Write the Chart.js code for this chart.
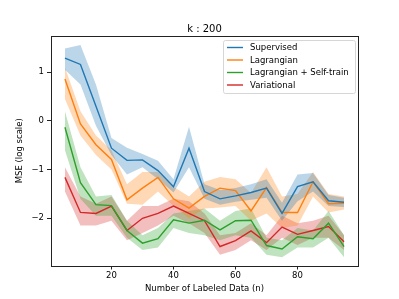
<!DOCTYPE html>
<html>
<head>
<meta charset="utf-8">
<script src="https://cdn.jsdelivr.net/npm/chart.js@4/dist/chart.umd.min.js"></script>
<style>
  html, body { margin: 0; padding: 0; background: #fff; }
  #wrap { width: 399px; height: 299px; }
</style>
</head>
<body>
<div id="wrap"><canvas id="chart" width="399" height="299"></canvas></div>
<script>
// data (log-scale MSE)
const nLabeled = [5, 10, 15, 20, 25, 30, 35, 40, 45, 50, 55, 60, 65, 70, 75, 80, 85, 90, 95];
const xTicks = [20, 40, 60, 80];
const yTicks = [-2, -1, 0, 1];

const supervised = [1.29, 1.16, 0.30, -0.56, -0.81, -0.80, -1.02, -1.35, -0.56, -1.45, -1.60, -1.54, -1.47, -1.38, -1.90, -1.35, -1.25, -1.64, -1.67];
const supervisedHi = [1.49, 1.56, 0.75, -0.35, -0.55, -0.68, -0.82, -1.20, -0.12, -1.30, -1.42, -1.38, -1.30, -1.20, -1.68, -1.10, -1.07, -1.52, -1.58];
const supervisedLo = [1.05, 0.75, -0.10, -0.70, -1.10, -0.95, -1.20, -1.47, -0.95, -1.60, -1.72, -1.66, -1.62, -1.58, -2.05, -1.65, -1.45, -1.75, -1.77];

const lagrangian = [0.86, -0.06, -0.49, -0.79, -1.62, -1.38, -1.16, -1.60, -1.79, -1.55, -1.38, -1.43, -1.85, -1.37, -1.88, -1.88, -1.25, -1.70, -1.69];
const lagrangianHi = [1.10, 0.20, -0.30, -0.60, -1.30, -1.05, -1.05, -1.35, -1.55, -1.25, -1.15, -1.20, -1.48, -0.95, -1.55, -1.50, -1.05, -1.50, -1.55];
const lagrangianLo = [0.45, -0.30, -0.70, -1.00, -1.70, -1.72, -1.45, -1.75, -2.00, -1.80, -1.78, -1.75, -2.05, -1.90, -2.20, -2.15, -1.55, -1.88, -1.82];

const selfTrain = [-0.13, -1.27, -1.72, -1.74, -2.25, -2.51, -2.42, -2.03, -2.10, -2.04, -2.24, -2.05, -2.04, -2.56, -2.63, -2.38, -2.42, -2.10, -2.58];
const selfTrainHi = [0.20, -0.95, -1.55, -1.52, -2.05, -2.35, -2.20, -1.90, -1.85, -1.80, -2.05, -1.85, -1.80, -2.40, -2.45, -2.20, -2.25, -1.85, -2.35];
const selfTrainLo = [-0.60, -1.60, -1.95, -1.95, -2.40, -2.65, -2.60, -2.20, -2.30, -2.35, -2.45, -2.35, -2.40, -2.75, -2.80, -2.60, -2.60, -2.40, -2.80];

const variational = [-1.16, -1.88, -1.90, -1.75, -2.25, -2.00, -1.90, -1.75, -1.90, -2.05, -2.58, -2.46, -2.26, -2.50, -2.18, -2.33, -2.25, -2.17, -2.48];
const variationalHi = [-0.95, -1.55, -1.70, -1.55, -2.05, -1.75, -1.75, -1.60, -1.65, -1.90, -2.35, -2.30, -2.10, -2.35, -1.95, -2.10, -2.05, -1.95, -2.35];
const variationalLo = [-1.45, -2.15, -2.15, -2.05, -2.45, -2.30, -2.15, -1.95, -2.10, -2.30, -2.75, -2.65, -2.45, -2.65, -2.40, -2.55, -2.40, -2.40, -2.65];

const FONT = "'DejaVu Sans', sans-serif";

function pts(arr) {
    return arr.map((v, i) => ({ x: nLabeled[i], y: v }));
}

const series = [
    { label: "Supervised", mean: supervised, lo: supervisedLo, hi: supervisedHi, rgb: "31,119,180" },
    { label: "Lagrangian", mean: lagrangian, lo: lagrangianLo, hi: lagrangianHi, rgb: "255,127,14" },
    { label: "Lagrangian + Self-train", mean: selfTrain, lo: selfTrainLo, hi: selfTrainHi, rgb: "44,160,44" },
    { label: "Variational", mean: variational, lo: variationalLo, hi: variationalHi, rgb: "214,39,40" },
];

const datasets = [];
series.forEach(s => {
    // band: lower edge then upper edge filled to it
    datasets.push({ data: pts(s.lo), borderWidth: 0, pointRadius: 0, fill: false, isBand: true, order: 2 });
    datasets.push({ data: pts(s.hi), borderWidth: 0, pointRadius: 0, fill: "-1",
        backgroundColor: "rgba(" + s.rgb + ",0.3)", isBand: true, order: 2 });
});
series.forEach(s => {
    datasets.push({ label: s.label, data: pts(s.mean), borderColor: "rgb(" + s.rgb + ")",
        borderWidth: 1.4, pointRadius: 0, fill: false, tension: 0, order: 1 });
});

// frame, title and legend like matplotlib
const mplDecor = {
    id: "mplDecor",
    afterDraw(chart) {
        const ctx = chart.ctx;
        const a = chart.chartArea;
        ctx.save();
        ctx.strokeStyle = "#222";
        ctx.lineWidth = 1;
        ctx.strokeRect(Math.round(a.left) + 0.5, Math.round(a.top) + 0.5,
            Math.round(a.right - a.left), Math.round(a.bottom - a.top));

        ctx.fillStyle = "#000";
        ctx.font = "10px " + FONT;
        ctx.textAlign = "center";
        ctx.textBaseline = "alphabetic";
        ctx.fillText("k : 200", (a.left + a.right) / 2, 32);

        // legend box
        const bx = 223, by = 40, bw = 132, bh = 53;
        ctx.beginPath();
        ctx.roundRect(bx + 0.5, by + 0.5, bw, bh, 2);
        ctx.fillStyle = "rgba(255,255,255,0.8)";
        ctx.fill();
        ctx.strokeStyle = "#d6d6d6";
        ctx.stroke();
        ctx.font = "8.5px " + FONT;
        ctx.textAlign = "left";
        ctx.textBaseline = "middle";
        const rows = [47.5, 60, 72.5, 85];
        chart.data.datasets.filter(d => !d.isBand).forEach((d, i) => {
            ctx.strokeStyle = d.borderColor;
            ctx.lineWidth = 1.4;
            ctx.beginPath();
            ctx.moveTo(227, rows[i]);
            ctx.lineTo(243, rows[i]);
            ctx.stroke();
            ctx.fillStyle = "#000";
            ctx.fillText(d.label, 250, rows[i] + 0.5);
        });
        ctx.restore();
    }
};

new Chart(document.getElementById("chart"), {
    type: "line",
    data: { datasets: datasets },
    options: {
        responsive: false,
        animation: false,
        layout: { padding: { left: 0, right: 41, top: 36, bottom: 0 } },
        plugins: { legend: { display: false }, title: { display: false }, tooltip: { enabled: false } },
        scales: {
            x: {
                type: "linear",
                min: 0.5,
                max: 99.5,
                afterBuildTicks: s => { s.ticks = xTicks.map(v => ({ value: v })); },
                afterFit: s => { s.height = 33.5; },
                grid: { display: true, drawOnChartArea: false, drawTicks: true, tickLength: 4, color: "#222" },
                border: { display: false },
                ticks: { color: "#000", font: { family: FONT, size: 8.5 }, padding: 1, maxRotation: 0 },
                title: { display: true, text: "Number of Labeled Data (n)", color: "#000",
                    font: { family: FONT, size: 8.5 }, padding: { top: 1, bottom: 5 } }
            },
            y: {
                type: "linear",
                min: -2.97,
                max: 1.745,
                afterBuildTicks: s => { s.ticks = yTicks.map(v => ({ value: v })); },
                afterFit: s => { s.width = 51; },
                grid: { display: true, drawOnChartArea: false, drawTicks: true, tickLength: 4, color: "#222" },
                border: { display: false },
                ticks: { color: "#000", font: { family: FONT, size: 8.5 }, padding: 3,
                    callback: v => (v < 0 ? "\u2212" + Math.abs(v) : String(v)) },
                title: { display: true, text: "MSE (log scale)", color: "#000",
                    font: { family: FONT, size: 8.5 }, padding: { top: 15, bottom: 6 } }
            }
        }
    },
    plugins: [mplDecor]
});
</script>
</body>
</html>
